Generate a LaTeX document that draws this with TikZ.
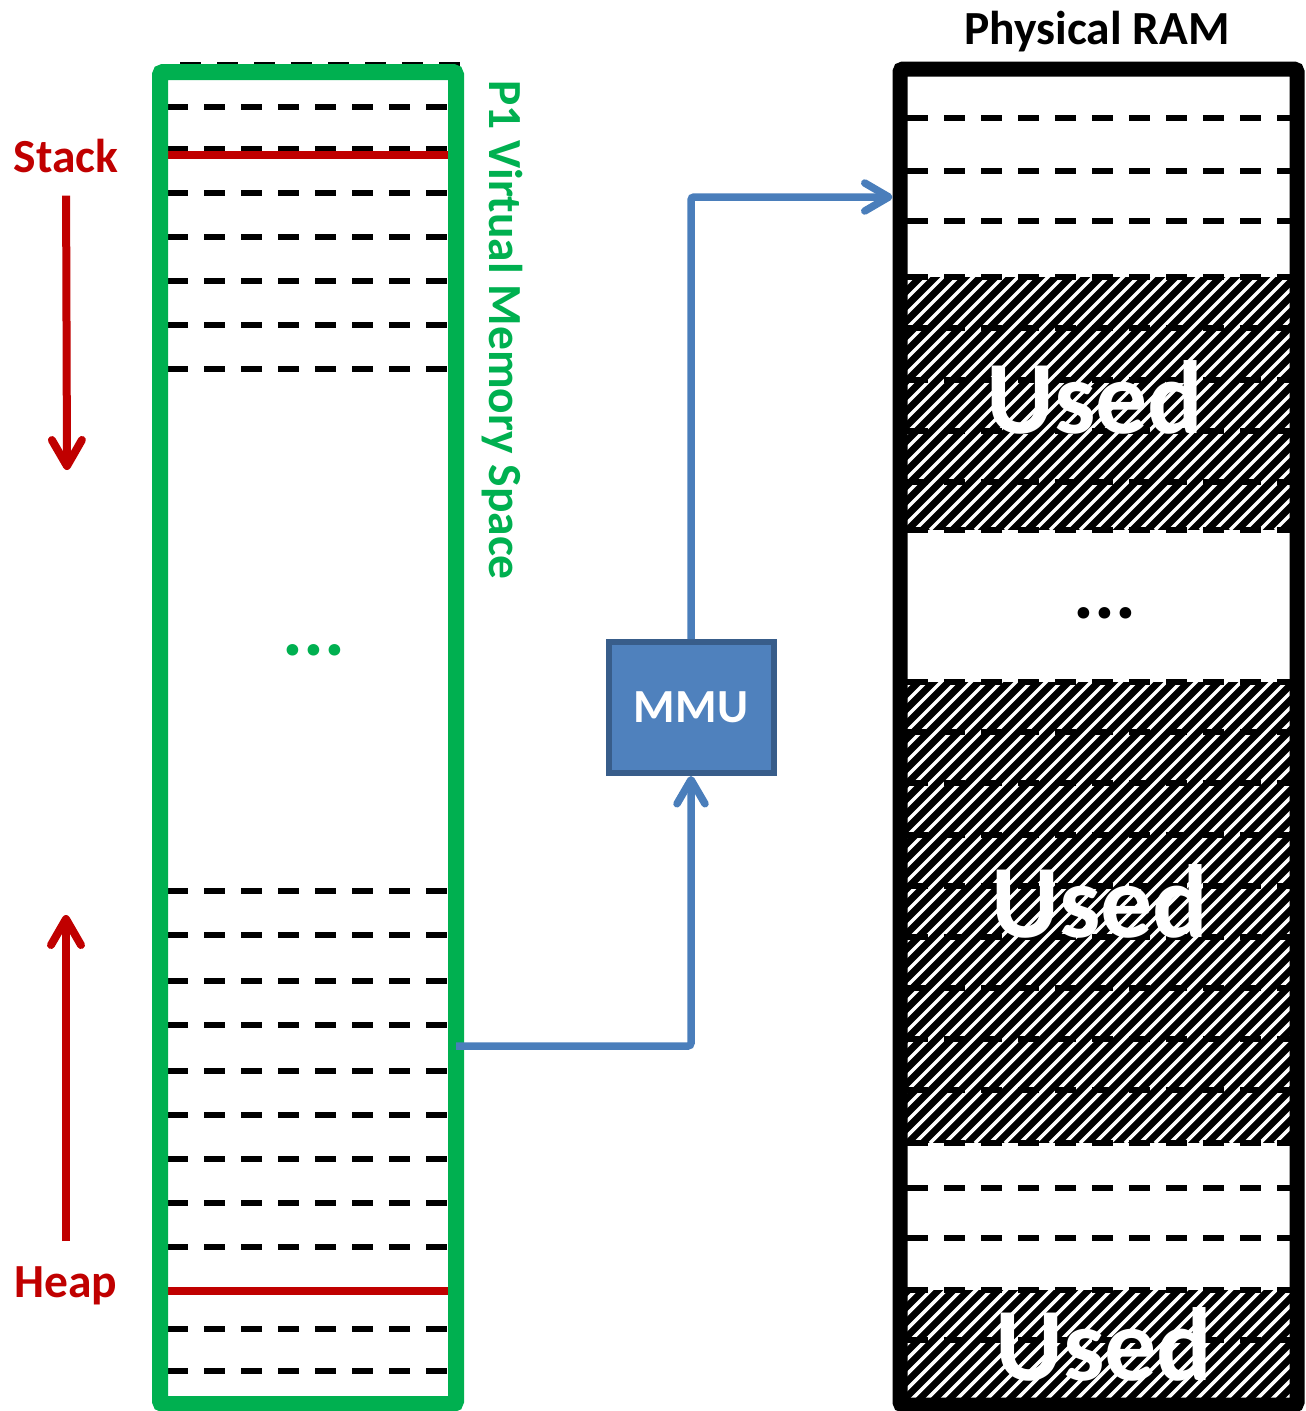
\documentclass[tikz,border=0pt]{standalone}
\usepackage{fontspec}
\setmainfont{Carlito}
\usetikzlibrary{arrows.meta}

\definecolor{vmgreen}{HTML}{00B050}
\definecolor{darkred}{HTML}{C00000}
\definecolor{mmublue}{HTML}{4F81BD}
\definecolor{mmuedge}{HTML}{385D8A}
\definecolor{linkblue}{HTML}{4A7EBB}

\tikzset{
  slot/.style={line width=6pt, dash pattern=on 21pt off 16pt},
  bound/.style={darkred, line width=8pt},
  growarrow/.style={darkred, line width=8pt, -{Straight Barb[length=26pt,width=30pt,round]}},
  link/.style={linkblue, line width=7.5pt, rounded corners=3pt, -{Straight Barb[length=24pt,width=28pt,round]}},
  biglabel/.style={font=\fontsize{47.5}{52}\selectfont\bfseries, inner sep=0pt},
  usedlabel/.style={font=\fontsize{104}{114}\selectfont\bfseries, text=white, inner sep=0pt, anchor=base},
}

\newcommand\usedblock[2]{%
  \begin{scope}
    \clip (907,#1) rectangle (1290,#2);
    \fill[black] (907,#1) rectangle (1290,#2);
    \foreach \hx in {420,435,...,1300}
      \draw[white, line width=3.5pt] (\hx,#2) -- ++(500,-500);
  \end{scope}}

\begin{document}
\begin{tikzpicture}[x=1pt, y=-1pt]
\useasboundingbox (0,0) rectangle (1306,1411);

% virtual memory of P1
\draw[slot] (180,65) -- (460,65);
\foreach \ry in {107,149,193,237,281,325,369,891,935,981,1025,1071,1115,1159,1203,1247,1291,1329,1371}
  \draw[slot] (167,\ry) -- (448,\ry);
\draw[bound] (167,155) -- (448,155);
\draw[bound] (167,1291) -- (448,1291);
\node (vm) [draw=vmgreen,
      line width=16pt,
      rounded corners=3pt,
      minimum width=296pt,
      minimum height=1332pt,
      inner sep=0pt,
      outer sep=0pt] at (308,738) {};
\node (vmdots) [font=\fontsize{78}{80}\selectfont\bfseries, text=vmgreen, anchor=base] at (314,655) {...};
\node (vmname) [biglabel, text=vmgreen, rotate=-90, anchor=base west] at (489,80) {P1 Virtual Memory Space};

% stack and heap
\node (stack) [biglabel, text=darkred, anchor=base] at (66,172) {Stack};
\node (heap) [biglabel, text=darkred, anchor=base] at (66,1297) {Heap};
\coordinate (stacktip) at (67,470);
\coordinate (heaptip) at (66,915);
\draw[growarrow, shorten <=23pt] (stack.south) -- (stacktip);
\draw[growarrow, shorten <=25pt] (heap.north) -- (heaptip);

% physical memory
\usedblock{277}{530}
\usedblock{682}{1143}
\usedblock{1290}{1411}
\foreach \ry in {118,171,221,277,328,380,431,482,530,682,732,783,835,886,937,988,1039,1090,1143,1188,1238,1290,1340}
  \draw[slot] (907,\ry) -- (1290,\ry);
\node (used1) [usedlabel] at (1095,433) {Used};
\node (used2) [usedlabel] at (1100,937) {Used};
\node (used3) [usedlabel] at (1104,1380) {Used};
\node (ramdots) [font=\fontsize{78}{80}\selectfont\bfseries, anchor=base] at (1105,618) {...};
\node (ram) [draw=black,
      line width=15pt,
      rounded corners=3pt,
      minimum width=397pt,
      minimum height=1336pt,
      inner sep=0pt] at (1098.5,737) {};
\node (ramname) [biglabel, anchor=base] at (1097,44) {Physical RAM};

% translation
\node (mmu) [fill=mmublue,
      draw=mmuedge,
      line width=6pt,
      minimum width=165pt,
      minimum height=131pt,
      biglabel,
      text=white] at (691,707.5) {MMU};
\coordinate (vmport) at (456,1046);
\coordinate (ramport) at (ram.west |- 0,197);
\draw[link] (vmport) -| (mmu.south);
\draw[link] (mmu.north) |- (ramport);
\end{tikzpicture}
\end{document}
